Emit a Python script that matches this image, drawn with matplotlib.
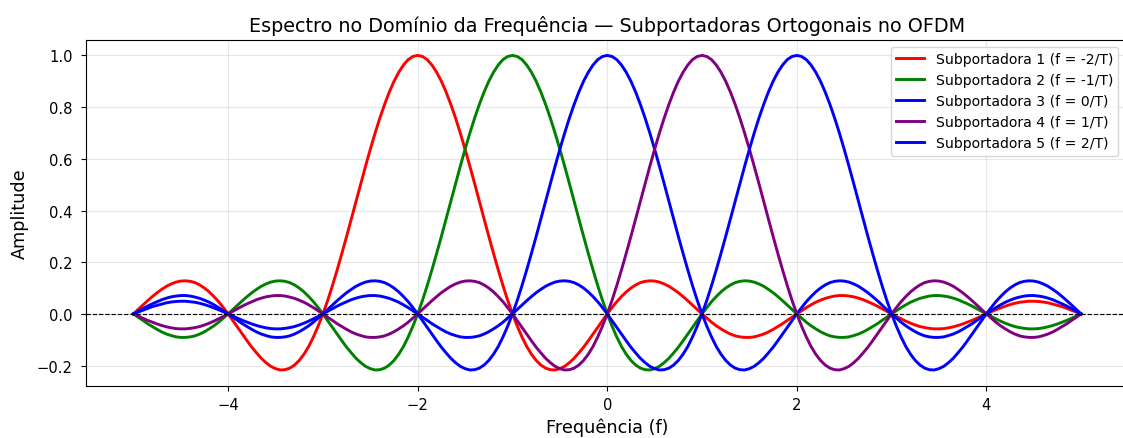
import numpy as np
import matplotlib
matplotlib.use("Agg")
import matplotlib.pyplot as plt

# Frequency sampling grid (f from -5 to 5, step 0.05)
freq = np.linspace(-5, 5, 201)

labels = [
    "Subportadora 1 (f = -2/T)",
    "Subportadora 2 (f = -1/T)",
    "Subportadora 3 (f = 0/T)",
    "Subportadora 4 (f = 1/T)",
    "Subportadora 5 (f = 2/T)",
]
colors = ["red", "green", "blue", "purple", "blue"]

sub1 = [
    0, 0.017, 0.034, 0.051, 0.067, 0.082, 0.095, 0.107, 0.116, 0.123, 0.127, 0.128, 0.126, 0.121, 0.112, 0.100, 0.085, 0.067, 0.047, 0.024,
    0, -0.026, -0.052, -0.078, -0.104, -0.129, -0.151, -0.172, -0.189, -0.203, -0.212, -0.217, -0.216, -0.210, -0.198, -0.180, -0.156, -0.126, -0.089, -0.047,
    0, 0.052, 0.109, 0.170, 0.234, 0.300, 0.368, 0.436, 0.505, 0.572, 0.637, 0.699, 0.757, 0.810, 0.858, 0.900, 0.935, 0.963, 0.984, 0.996,
    1.000, 0.996, 0.984, 0.963, 0.935, 0.900, 0.858, 0.810, 0.757, 0.699, 0.637, 0.572, 0.505, 0.436, 0.368, 0.300, 0.234, 0.170, 0.109, 0.052,
    0, -0.047, -0.089, -0.126, -0.156, -0.180, -0.198, -0.210, -0.216, -0.217, -0.212, -0.203, -0.189, -0.172, -0.151, -0.129, -0.104, -0.078, -0.052, -0.026,
    0, 0.024, 0.047, 0.067, 0.085, 0.100, 0.112, 0.121, 0.126, 0.128, 0.127, 0.123, 0.116, 0.107, 0.095, 0.082, 0.067, 0.051, 0.034, 0.017,
    0, -0.016, -0.032, -0.046, -0.058, -0.069, -0.078, -0.085, -0.089, -0.091, -0.091, -0.089, -0.084, -0.078, -0.070, -0.060, -0.049, -0.038, -0.025, -0.013,
    0, 0.012, 0.024, 0.035, 0.045, 0.053, 0.060, 0.065, 0.069, 0.071, 0.071, 0.069, 0.066, 0.061, 0.055, 0.047, 0.039, 0.030, 0.020, 0.010,
    0, -0.010, -0.019, -0.028, -0.036, -0.043, -0.049, -0.053, -0.056, -0.058, -0.058, -0.057, -0.054, -0.050, -0.045, -0.039, -0.032, -0.025, -0.017, -0.008,
    0, 0.008, 0.016, 0.023, 0.030, 0.036, 0.041, 0.045, 0.047, 0.049, 0.049, 0.048, 0.046, 0.043, 0.038, 0.033, 0.028, 0.021, 0.014, 0.007,
    0,
]
sub2 = [
    0, -0.013, -0.025, -0.038, -0.049, -0.060, -0.070, -0.078, -0.084, -0.089, -0.091, -0.091, -0.089, -0.085, -0.078, -0.069, -0.058, -0.046, -0.032, -0.016,
    0, 0.017, 0.034, 0.051, 0.067, 0.082, 0.095, 0.107, 0.116, 0.123, 0.127, 0.128, 0.126, 0.121, 0.112, 0.100, 0.085, 0.067, 0.047, 0.024,
    0, -0.026, -0.052, -0.078, -0.104, -0.129, -0.151, -0.172, -0.189, -0.203, -0.212, -0.217, -0.216, -0.210, -0.198, -0.180, -0.156, -0.126, -0.089, -0.047,
    0, 0.052, 0.109, 0.170, 0.234, 0.300, 0.368, 0.436, 0.505, 0.572, 0.637, 0.699, 0.757, 0.810, 0.858, 0.900, 0.935, 0.963, 0.984, 0.996,
    1.000, 0.996, 0.984, 0.963, 0.935, 0.900, 0.858, 0.810, 0.757, 0.699, 0.637, 0.572, 0.505, 0.436, 0.368, 0.300, 0.234, 0.170, 0.109, 0.052,
    0, -0.047, -0.089, -0.126, -0.156, -0.180, -0.198, -0.210, -0.216, -0.217, -0.212, -0.203, -0.189, -0.172, -0.151, -0.129, -0.104, -0.078, -0.052, -0.026,
    0, 0.024, 0.047, 0.067, 0.085, 0.100, 0.112, 0.121, 0.126, 0.128, 0.127, 0.123, 0.116, 0.107, 0.095, 0.082, 0.067, 0.051, 0.034, 0.017,
    0, -0.016, -0.032, -0.046, -0.058, -0.069, -0.078, -0.085, -0.089, -0.091, -0.091, -0.089, -0.084, -0.078, -0.070, -0.060, -0.049, -0.038, -0.025, -0.013,
    0, 0.012, 0.024, 0.035, 0.045, 0.053, 0.060, 0.065, 0.069, 0.071, 0.071, 0.069, 0.066, 0.061, 0.055, 0.047, 0.039, 0.030, 0.020, 0.010,
    0, -0.010, -0.019, -0.028, -0.036, -0.043, -0.049, -0.053, -0.056, -0.058, -0.058, -0.057, -0.054, -0.050, -0.045, -0.039, -0.032, -0.025, -0.017, -0.008,
    0,
]
sub3 = [
    0, 0.010, 0.020, 0.030, 0.039, 0.047, 0.055, 0.061, 0.066, 0.069, 0.071, 0.071, 0.069, 0.065, 0.060, 0.053, 0.045, 0.035, 0.024, 0.012,
    0, -0.013, -0.025, -0.038, -0.049, -0.060, -0.070, -0.078, -0.084, -0.089, -0.091, -0.091, -0.089, -0.085, -0.078, -0.069, -0.058, -0.046, -0.032, -0.016,
    0, 0.017, 0.034, 0.051, 0.067, 0.082, 0.095, 0.107, 0.116, 0.123, 0.127, 0.128, 0.126, 0.121, 0.112, 0.100, 0.085, 0.067, 0.047, 0.024,
    0, -0.026, -0.052, -0.078, -0.104, -0.129, -0.151, -0.172, -0.189, -0.203, -0.212, -0.217, -0.216, -0.210, -0.198, -0.180, -0.156, -0.126, -0.089, -0.047,
    0, 0.052, 0.109, 0.170, 0.234, 0.300, 0.368, 0.436, 0.505, 0.572, 0.637, 0.699, 0.757, 0.810, 0.858, 0.900, 0.935, 0.963, 0.984, 0.996,
    1.000, 0.996, 0.984, 0.963, 0.935, 0.900, 0.858, 0.810, 0.757, 0.699, 0.637, 0.572, 0.505, 0.436, 0.368, 0.300, 0.234, 0.170, 0.109, 0.052,
    0, -0.047, -0.089, -0.126, -0.156, -0.180, -0.198, -0.210, -0.216, -0.217, -0.212, -0.203, -0.189, -0.172, -0.151, -0.129, -0.104, -0.078, -0.052, -0.026,
    0, 0.024, 0.047, 0.067, 0.085, 0.100, 0.112, 0.121, 0.126, 0.128, 0.127, 0.123, 0.116, 0.107, 0.095, 0.082, 0.067, 0.051, 0.034, 0.017,
    0, -0.016, -0.032, -0.046, -0.058, -0.069, -0.078, -0.085, -0.089, -0.091, -0.091, -0.089, -0.084, -0.078, -0.070, -0.060, -0.049, -0.038, -0.025, -0.013,
    0, 0.012, 0.024, 0.035, 0.045, 0.053, 0.060, 0.065, 0.069, 0.071, 0.071, 0.069, 0.066, 0.061, 0.055, 0.047, 0.039, 0.030, 0.020, 0.010,
    0,
]
sub4 = [
    0, -0.008, -0.017, -0.025, -0.032, -0.039, -0.045, -0.050, -0.054, -0.057, -0.058, -0.058, -0.056, -0.053, -0.049, -0.043, -0.036, -0.028, -0.019, -0.010,
    0, 0.010, 0.020, 0.030, 0.039, 0.047, 0.055, 0.061, 0.066, 0.069, 0.071, 0.071, 0.069, 0.065, 0.060, 0.053, 0.045, 0.035, 0.024, 0.012,
    0, -0.013, -0.025, -0.038, -0.049, -0.060, -0.070, -0.078, -0.084, -0.089, -0.091, -0.091, -0.089, -0.085, -0.078, -0.069, -0.058, -0.046, -0.032, -0.016,
    0, 0.017, 0.034, 0.051, 0.067, 0.082, 0.095, 0.107, 0.116, 0.123, 0.127, 0.128, 0.126, 0.121, 0.112, 0.100, 0.085, 0.067, 0.047, 0.024,
    0, -0.026, -0.052, -0.078, -0.104, -0.129, -0.151, -0.172, -0.189, -0.203, -0.212, -0.217, -0.216, -0.210, -0.198, -0.180, -0.156, -0.126, -0.089, -0.047,
    0, 0.052, 0.109, 0.170, 0.234, 0.300, 0.368, 0.436, 0.505, 0.572, 0.637, 0.699, 0.757, 0.810, 0.858, 0.900, 0.935, 0.963, 0.984, 0.996,
    1.000, 0.996, 0.984, 0.963, 0.935, 0.900, 0.858, 0.810, 0.757, 0.699, 0.637, 0.572, 0.505, 0.436, 0.368, 0.300, 0.234, 0.170, 0.109, 0.052,
    0, -0.047, -0.089, -0.126, -0.156, -0.180, -0.198, -0.210, -0.216, -0.217, -0.212, -0.203, -0.189, -0.172, -0.151, -0.129, -0.104, -0.078, -0.052, -0.026,
    0, 0.024, 0.047, 0.067, 0.085, 0.100, 0.112, 0.121, 0.126, 0.128, 0.127, 0.123, 0.116, 0.107, 0.095, 0.082, 0.067, 0.051, 0.034, 0.017,
    0, -0.016, -0.032, -0.046, -0.058, -0.069, -0.078, -0.085, -0.089, -0.091, -0.091, -0.089, -0.084, -0.078, -0.070, -0.060, -0.049, -0.038, -0.025, -0.013,
    0,
]
sub5 = [
    0, 0.007, 0.014, 0.021, 0.028, 0.033, 0.038, 0.043, 0.046, 0.048, 0.049, 0.049, 0.047, 0.045, 0.041, 0.036, 0.030, 0.023, 0.016, 0.008,
    0, -0.008, -0.017, -0.025, -0.032, -0.039, -0.045, -0.050, -0.054, -0.057, -0.058, -0.058, -0.056, -0.053, -0.049, -0.043, -0.036, -0.028, -0.019, -0.010,
    0, 0.010, 0.020, 0.030, 0.039, 0.047, 0.055, 0.061, 0.066, 0.069, 0.071, 0.071, 0.069, 0.065, 0.060, 0.053, 0.045, 0.035, 0.024, 0.012,
    0, -0.013, -0.025, -0.038, -0.049, -0.060, -0.070, -0.078, -0.084, -0.089, -0.091, -0.091, -0.089, -0.085, -0.078, -0.069, -0.058, -0.046, -0.032, -0.016,
    0, 0.017, 0.034, 0.051, 0.067, 0.082, 0.095, 0.107, 0.116, 0.123, 0.127, 0.128, 0.126, 0.121, 0.112, 0.100, 0.085, 0.067, 0.047, 0.024,
    0, -0.026, -0.052, -0.078, -0.104, -0.129, -0.151, -0.172, -0.189, -0.203, -0.212, -0.217, -0.216, -0.210, -0.198, -0.180, -0.156, -0.126, -0.089, -0.047,
    0, 0.052, 0.109, 0.170, 0.234, 0.300, 0.368, 0.436, 0.505, 0.572, 0.637, 0.699, 0.757, 0.810, 0.858, 0.900, 0.935, 0.963, 0.984, 0.996,
    1.000, 0.996, 0.984, 0.963, 0.935, 0.900, 0.858, 0.810, 0.757, 0.699, 0.637, 0.572, 0.505, 0.436, 0.368, 0.300, 0.234, 0.170, 0.109, 0.052,
    0, -0.047, -0.089, -0.126, -0.156, -0.180, -0.198, -0.210, -0.216, -0.217, -0.212, -0.203, -0.189, -0.172, -0.151, -0.129, -0.104, -0.078, -0.052, -0.026,
    0, 0.024, 0.047, 0.067, 0.085, 0.100, 0.112, 0.121, 0.126, 0.128, 0.127, 0.123, 0.116, 0.107, 0.095, 0.082, 0.067, 0.051, 0.034, 0.017,
    0,
]
series = [sub1, sub2, sub3, sub4, sub5]

fig = plt.figure(figsize=(11.23, 4.39), dpi=100)
ax = fig.add_axes([86 / 1123, 52.3 / 439, 1042.5 / 1123, 346 / 439])

for vals, lab, col in zip(series, labels, colors):
    ax.plot(freq, vals, color=col, linewidth=2.1, label=lab)

ax.axhline(0, color="black", linestyle="--", linewidth=0.85)
ax.set_xlim(-5.5, 5.5)
ax.set_title("Espectro no Domínio da Frequência — Subportadoras Ortogonais no OFDM",
             fontsize=13.8, pad=6.5)
ax.set_xlabel("Frequência (f)", fontsize=12.7)
ax.set_ylabel("Amplitude", fontsize=12.7, labelpad=6)
ax.tick_params(axis="both", labelsize=10.6, length=3.7)
ax.tick_params(axis="y", pad=5.8)
ax.tick_params(axis="x", pad=4.4)
ax.grid(True, alpha=0.3)
ax.legend(loc="upper right", fontsize=10.1, bbox_to_anchor=(1.0 - 3 / 1042.5, 1.0))

fig.savefig("out.png", dpi=100)
